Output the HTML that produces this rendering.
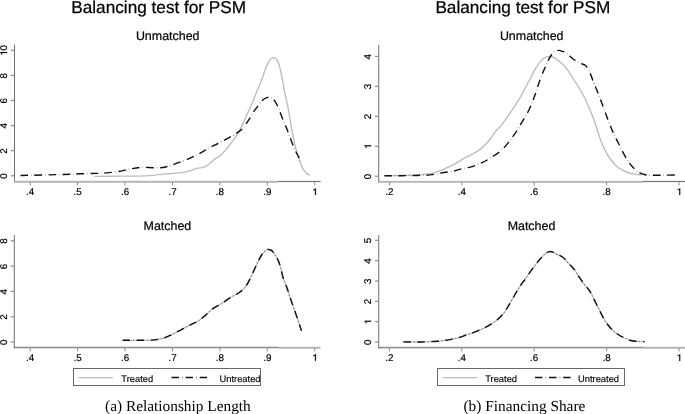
<!DOCTYPE html>
<html><head><meta charset="utf-8"><style>
html,body{margin:0;padding:0;background:#fff;}
body{width:685px;height:414px;overflow:hidden;}
svg{display:block;will-change:transform;text-rendering:geometricPrecision;}
.title{font-family:"Liberation Sans",sans-serif;font-size:17.2px;fill:#000;stroke:#000;stroke-width:0.25px;}
.sub{font-family:"Liberation Sans",sans-serif;font-size:12.45px;fill:#000;stroke:#000;stroke-width:0.2px;}
.t{font-family:"Liberation Sans",sans-serif;font-size:9.8px;fill:#000;stroke:#000;stroke-width:0.2px;}
.leg{font-family:"Liberation Sans",sans-serif;font-size:9.35px;fill:#000;stroke:#000;stroke-width:0.15px;}
.g1{fill:#000;stroke:#000;stroke-width:0.2px;}
.cap{font-family:"Liberation Serif",serif;font-size:15.35px;fill:#000;}
</style></head><body>
<svg width="685" height="414" viewBox="0 0 685 414">
<text x="158.7" y="12.7" text-anchor="middle" class="title">Balancing test for PSM</text>
<text x="522.8" y="12.7" text-anchor="middle" class="title">Balancing test for PSM</text>
<text x="167.7" y="40.2" text-anchor="middle" class="sub">Unmatched</text>
<text x="531.7" y="40.2" text-anchor="middle" class="sub">Unmatched</text>
<text x="167.4" y="230.3" text-anchor="middle" class="sub">Matched</text>
<text x="531.5" y="230.3" text-anchor="middle" class="sub">Matched</text>
<rect x="14.0" y="44.6" width="1" height="138.1" fill="#707070"/>
<rect x="14" y="180.8" width="263.9" height="2" fill="#b6b6b6"/>
<rect x="277.9" y="180.9" width="42.700000000000045" height="1.2" fill="#767676"/>
<rect x="29.7" y="182.2" width="1" height="3.3" fill="#8a8a8a"/>
<text x="30.2" y="195.0" text-anchor="middle" class="t">.4</text>
<rect x="77.1" y="182.2" width="1" height="3.3" fill="#8a8a8a"/>
<text x="77.6" y="195.0" text-anchor="middle" class="t">.5</text>
<rect x="124.5" y="182.2" width="1" height="3.3" fill="#8a8a8a"/>
<text x="125.0" y="195.0" text-anchor="middle" class="t">.6</text>
<rect x="172.0" y="182.2" width="1" height="3.3" fill="#8a8a8a"/>
<text x="172.5" y="195.0" text-anchor="middle" class="t">.7</text>
<rect x="219.4" y="182.2" width="1" height="3.3" fill="#8a8a8a"/>
<text x="219.9" y="195.0" text-anchor="middle" class="t">.8</text>
<rect x="266.8" y="182.2" width="1" height="3.3" fill="#8a8a8a"/>
<text x="267.3" y="195.0" text-anchor="middle" class="t">.9</text>
<rect x="314.2" y="182.2" width="1" height="3.3" fill="#8a8a8a"/>
<path d="M315.91 195.00 L315.91 188.26 L315.19 188.26 L315.08 188.73 L314.72 189.30 L313.96 189.54 L313.20 189.59 L313.20 190.20 L314.96 190.20 L314.96 195.00 Z" class="g1"/>
<rect x="10.9" y="175.20000000000002" width="3.4" height="1.2" fill="#8c8c8c"/>
<text transform="translate(6.9 176.10) rotate(-90)" text-anchor="middle" class="t">0</text>
<rect x="10.9" y="150.10000000000002" width="3.4" height="1.2" fill="#8c8c8c"/>
<text transform="translate(6.9 151.00) rotate(-90)" text-anchor="middle" class="t">2</text>
<rect x="10.9" y="125.00000000000001" width="3.4" height="1.2" fill="#8c8c8c"/>
<text transform="translate(6.9 125.90) rotate(-90)" text-anchor="middle" class="t">4</text>
<rect x="10.9" y="99.9" width="3.4" height="1.2" fill="#8c8c8c"/>
<text transform="translate(6.9 100.80) rotate(-90)" text-anchor="middle" class="t">6</text>
<rect x="10.9" y="74.80000000000001" width="3.4" height="1.2" fill="#8c8c8c"/>
<text transform="translate(6.9 75.70) rotate(-90)" text-anchor="middle" class="t">8</text>
<rect x="10.9" y="49.70000000000001" width="3.4" height="1.2" fill="#8c8c8c"/>
<g transform="translate(6.9 50.60) rotate(-90)"><path d="M-1.52 0.00 L-1.52 -6.74 L-2.23 -6.74 L-2.34 -6.27 L-2.71 -5.70 L-3.47 -5.46 L-4.23 -5.41 L-4.23 -4.80 L-2.47 -4.80 L-2.47 0.00 Z" class="g1"/><text x="0" y="0" class="t">0</text></g>
<rect x="378.2" y="44.8" width="1" height="137.8" fill="#707070"/>
<rect x="378.2" y="180.9" width="263.8" height="1.9" fill="#b6b6b6"/>
<rect x="642" y="180.9" width="43" height="1.2" fill="#767676"/>
<rect x="388.9" y="182.1" width="1" height="3.3" fill="#8a8a8a"/>
<text x="389.4" y="194.9" text-anchor="middle" class="t">.2</text>
<rect x="461.3" y="182.1" width="1" height="3.3" fill="#8a8a8a"/>
<text x="461.8" y="194.9" text-anchor="middle" class="t">.4</text>
<rect x="533.7" y="182.1" width="1" height="3.3" fill="#8a8a8a"/>
<text x="534.2" y="194.9" text-anchor="middle" class="t">.6</text>
<rect x="606.1" y="182.1" width="1" height="3.3" fill="#8a8a8a"/>
<text x="606.6" y="194.9" text-anchor="middle" class="t">.8</text>
<rect x="678.5" y="182.1" width="1" height="3.3" fill="#8a8a8a"/>
<path d="M680.21 194.90 L680.21 188.16 L679.49 188.16 L679.38 188.63 L679.02 189.20 L678.26 189.44 L677.50 189.49 L677.50 190.10 L679.26 190.10 L679.26 194.90 Z" class="g1"/>
<rect x="375.09999999999997" y="175.6" width="3.4" height="1.2" fill="#8c8c8c"/>
<text transform="translate(371.09999999999997 176.50) rotate(-90)" text-anchor="middle" class="t">0</text>
<rect x="375.09999999999997" y="145.65" width="3.4" height="1.2" fill="#8c8c8c"/>
<path transform="translate(371.09999999999997 146.55) rotate(-90)" d="M1.18 0.00 L1.18 -6.59 L0.48 -6.59 L0.37 -6.14 L0.02 -5.58 L-0.73 -5.35 L-1.47 -5.30 L-1.47 -4.70 L0.25 -4.70 L0.25 0.00 Z" class="g1"/>
<rect x="375.09999999999997" y="115.69999999999999" width="3.4" height="1.2" fill="#8c8c8c"/>
<text transform="translate(371.09999999999997 116.60) rotate(-90)" text-anchor="middle" class="t">2</text>
<rect x="375.09999999999997" y="85.75" width="3.4" height="1.2" fill="#8c8c8c"/>
<text transform="translate(371.09999999999997 86.65) rotate(-90)" text-anchor="middle" class="t">3</text>
<rect x="375.09999999999997" y="55.79999999999999" width="3.4" height="1.2" fill="#8c8c8c"/>
<text transform="translate(371.09999999999997 56.70) rotate(-90)" text-anchor="middle" class="t">4</text>
<rect x="13.8" y="235" width="1" height="113.5" fill="#707070"/>
<rect x="13.8" y="346.7" width="265.09999999999997" height="1.6" fill="#8e8e8e"/>
<rect x="278.9" y="346.8" width="41.700000000000045" height="1.9" fill="#b2b2b2"/>
<rect x="29.7" y="348.0" width="1" height="3.3" fill="#8a8a8a"/>
<text x="30.2" y="360.8" text-anchor="middle" class="t">.4</text>
<rect x="77.1" y="348.0" width="1" height="3.3" fill="#8a8a8a"/>
<text x="77.6" y="360.8" text-anchor="middle" class="t">.5</text>
<rect x="124.5" y="348.0" width="1" height="3.3" fill="#8a8a8a"/>
<text x="125.0" y="360.8" text-anchor="middle" class="t">.6</text>
<rect x="172.0" y="348.0" width="1" height="3.3" fill="#8a8a8a"/>
<text x="172.5" y="360.8" text-anchor="middle" class="t">.7</text>
<rect x="219.4" y="348.0" width="1" height="3.3" fill="#8a8a8a"/>
<text x="219.9" y="360.8" text-anchor="middle" class="t">.8</text>
<rect x="266.8" y="348.0" width="1" height="3.3" fill="#8a8a8a"/>
<text x="267.3" y="360.8" text-anchor="middle" class="t">.9</text>
<rect x="314.2" y="348.0" width="1" height="3.3" fill="#8a8a8a"/>
<path d="M315.91 360.80 L315.91 354.06 L315.19 354.06 L315.08 354.53 L314.72 355.10 L313.96 355.34 L313.20 355.38 L313.20 356.00 L314.96 356.00 L314.96 360.80 Z" class="g1"/>
<rect x="10.700000000000001" y="341.5" width="3.4" height="1.2" fill="#8c8c8c"/>
<text transform="translate(6.700000000000001 342.40) rotate(-90)" text-anchor="middle" class="t">0</text>
<rect x="10.700000000000001" y="316.17" width="3.4" height="1.2" fill="#8c8c8c"/>
<text transform="translate(6.700000000000001 317.07) rotate(-90)" text-anchor="middle" class="t">2</text>
<rect x="10.700000000000001" y="290.84000000000003" width="3.4" height="1.2" fill="#8c8c8c"/>
<text transform="translate(6.700000000000001 291.74) rotate(-90)" text-anchor="middle" class="t">4</text>
<rect x="10.700000000000001" y="265.51" width="3.4" height="1.2" fill="#8c8c8c"/>
<text transform="translate(6.700000000000001 266.41) rotate(-90)" text-anchor="middle" class="t">6</text>
<rect x="10.700000000000001" y="240.18000000000004" width="3.4" height="1.2" fill="#8c8c8c"/>
<text transform="translate(6.700000000000001 241.08) rotate(-90)" text-anchor="middle" class="t">8</text>
<rect x="378.2" y="235.1" width="1" height="113.50000000000003" fill="#707070"/>
<rect x="378.2" y="346.8" width="264.7" height="1.6" fill="#8e8e8e"/>
<rect x="642.9" y="346.8" width="42.10000000000002" height="1.9" fill="#b2b2b2"/>
<rect x="388.9" y="348.1" width="1" height="3.3" fill="#8a8a8a"/>
<text x="389.4" y="360.90000000000003" text-anchor="middle" class="t">.2</text>
<rect x="461.3" y="348.1" width="1" height="3.3" fill="#8a8a8a"/>
<text x="461.8" y="360.90000000000003" text-anchor="middle" class="t">.4</text>
<rect x="533.7" y="348.1" width="1" height="3.3" fill="#8a8a8a"/>
<text x="534.2" y="360.90000000000003" text-anchor="middle" class="t">.6</text>
<rect x="606.1" y="348.1" width="1" height="3.3" fill="#8a8a8a"/>
<text x="606.6" y="360.90000000000003" text-anchor="middle" class="t">.8</text>
<rect x="678.5" y="348.1" width="1" height="3.3" fill="#8a8a8a"/>
<path d="M680.21 360.90 L680.21 354.16 L679.49 354.16 L679.38 354.63 L679.02 355.20 L678.26 355.44 L677.50 355.49 L677.50 356.10 L679.26 356.10 L679.26 360.90 Z" class="g1"/>
<rect x="375.09999999999997" y="341.4" width="3.4" height="1.2" fill="#8c8c8c"/>
<text transform="translate(371.09999999999997 342.30) rotate(-90)" text-anchor="middle" class="t">0</text>
<rect x="375.09999999999997" y="321.07" width="3.4" height="1.2" fill="#8c8c8c"/>
<path transform="translate(371.09999999999997 321.97) rotate(-90)" d="M1.18 0.00 L1.18 -6.59 L0.48 -6.59 L0.37 -6.14 L0.02 -5.58 L-0.73 -5.35 L-1.47 -5.30 L-1.47 -4.70 L0.25 -4.70 L0.25 0.00 Z" class="g1"/>
<rect x="375.09999999999997" y="300.74" width="3.4" height="1.2" fill="#8c8c8c"/>
<text transform="translate(371.09999999999997 301.64) rotate(-90)" text-anchor="middle" class="t">2</text>
<rect x="375.09999999999997" y="280.40999999999997" width="3.4" height="1.2" fill="#8c8c8c"/>
<text transform="translate(371.09999999999997 281.31) rotate(-90)" text-anchor="middle" class="t">3</text>
<rect x="375.09999999999997" y="260.08" width="3.4" height="1.2" fill="#8c8c8c"/>
<text transform="translate(371.09999999999997 260.98) rotate(-90)" text-anchor="middle" class="t">4</text>
<rect x="375.09999999999997" y="239.75000000000003" width="3.4" height="1.2" fill="#8c8c8c"/>
<text transform="translate(371.09999999999997 240.65) rotate(-90)" text-anchor="middle" class="t">5</text>
<path d="M94.4 176.3 C97.8 176.3 106.6 176.3 115.0 176.2 C123.4 176.1 137.5 176.2 144.8 175.9 C152.1 175.7 154.1 175.1 158.8 174.7 C163.5 174.3 168.5 173.7 172.9 173.3 C177.3 172.9 182.2 172.5 185.1 172.1 C188.0 171.7 188.3 171.3 190.4 170.7 C192.5 170.0 195.5 168.8 197.7 168.2 C199.9 167.6 201.6 168.1 203.5 167.4 C205.4 166.7 207.4 165.2 209.3 163.8 C211.2 162.4 213.2 160.4 215.1 158.9 C217.0 157.4 218.7 157.2 220.9 155.1 C223.2 153.0 226.0 149.6 228.6 146.4 C231.2 143.2 234.1 139.2 236.4 135.7 C238.7 132.1 240.4 128.6 242.2 125.1 C244.0 121.6 245.4 118.0 247.0 114.5 C248.6 111.0 250.2 107.9 251.8 104.1 C253.4 100.2 255.1 95.5 256.8 91.4 C258.5 87.3 260.3 83.7 261.9 79.6 C263.4 75.5 264.7 70.3 266.1 66.9 C267.5 63.5 269.2 60.8 270.4 59.3 C271.6 57.8 272.3 57.5 273.4 57.6 C274.5 57.7 276.1 58.5 277.1 60.1 C278.2 61.7 278.9 63.8 279.7 66.9 C280.5 70.0 281.4 74.5 282.2 78.7 C283.0 82.9 283.7 87.2 284.7 92.3 C285.7 97.4 287.3 103.8 288.4 109.6 C289.5 115.4 290.4 121.8 291.3 126.9 C292.2 132.0 292.9 135.6 293.8 140.0 C294.8 144.4 296.0 149.6 297.0 153.3 C298.0 157.0 298.9 159.5 300.0 162.3 C301.1 165.1 302.6 168.3 303.8 170.2 C305.0 172.1 306.0 172.8 307.0 173.6 C308.0 174.4 309.4 174.8 309.9 175.0" stroke="#bcbcbc" stroke-width="1.35" fill="none"/>
<path d="M20.5 175.5 C27.5 175.3 52.7 174.8 62.6 174.5 C72.5 174.2 74.3 174.0 80.0 173.8 C85.7 173.6 92.3 173.6 96.7 173.4 C101.1 173.2 102.7 173.2 106.3 172.9 C109.9 172.6 114.4 172.2 118.5 171.5 C122.6 170.8 126.9 169.5 130.8 168.8 C134.7 168.1 137.9 167.5 142.0 167.3 C146.1 167.1 151.4 167.9 155.3 167.8 C159.2 167.8 162.1 167.7 165.5 167.0 C168.9 166.3 171.8 165.1 175.7 163.7 C179.6 162.3 184.8 160.4 188.8 158.7 C192.9 157.0 196.6 155.1 200.0 153.3 C203.4 151.5 206.1 149.5 209.3 147.8 C212.5 146.1 215.8 144.6 219.0 142.9 C222.2 141.2 225.7 139.5 228.6 137.9 C231.5 136.3 234.1 134.8 236.3 133.4 C238.5 132.0 240.0 131.2 241.6 129.6 C243.2 128.0 244.6 125.7 245.9 124.0 C247.2 122.3 248.1 121.1 249.3 119.2 C250.5 117.3 251.9 114.4 253.2 112.4 C254.5 110.4 255.7 109.0 257.1 107.1 C258.6 105.2 260.3 102.4 261.9 100.8 C263.5 99.2 265.4 98.3 266.8 97.7 C268.2 97.1 269.4 96.7 270.5 97.0 C271.6 97.3 272.6 98.2 273.6 99.4 C274.6 100.6 275.6 102.2 276.5 103.9 C277.4 105.6 278.1 107.4 278.9 109.3 C279.7 111.2 280.6 113.6 281.3 115.5 C282.0 117.4 282.7 119.0 283.3 120.5 C283.9 122.0 284.6 123.2 285.2 124.7 C285.8 126.2 285.7 125.8 287.1 129.5 C288.5 133.2 291.8 142.6 293.8 147.2 C295.8 151.8 297.4 154.6 298.9 157.3 C300.4 160.0 302.0 162.6 302.6 163.6" stroke="#111" stroke-width="1.4" fill="none" stroke-dasharray="7.6 3.1 0.3 3.0"/>
<path d="M384.5 175.8 C387.6 175.7 397.5 175.5 403.4 175.3 C409.3 175.1 415.6 174.8 420.0 174.5 C424.4 174.2 426.3 174.5 430.0 173.7 C433.7 172.9 438.1 171.4 442.1 169.8 C446.1 168.2 450.5 166.3 454.1 164.4 C457.7 162.5 460.8 160.1 463.8 158.4 C466.8 156.7 469.6 155.5 472.2 154.1 C474.8 152.7 477.3 151.5 479.5 149.9 C481.7 148.3 483.5 146.6 485.5 144.5 C487.5 142.4 490.0 139.2 491.6 137.2 C493.2 135.1 493.3 134.3 495.0 132.2 C496.7 130.1 499.0 128.2 501.8 124.6 C504.6 120.9 509.1 114.4 511.9 110.3 C514.7 106.2 516.8 103.1 518.6 100.1 C520.5 97.1 521.1 95.8 523.0 92.3 C524.9 88.8 527.9 83.3 530.0 79.3 C532.1 75.3 533.9 71.3 535.8 68.1 C537.7 64.9 539.9 61.9 541.6 60.1 C543.3 58.3 544.5 57.8 545.9 57.2 C547.3 56.6 548.8 56.4 550.3 56.5 C551.8 56.6 552.9 56.9 554.6 57.9 C556.3 58.9 558.5 60.6 560.4 62.3 C562.3 64.0 564.3 65.7 566.2 68.1 C568.1 70.5 570.3 74.2 572.0 76.8 C573.7 79.3 574.9 81.3 576.2 83.4 C577.6 85.5 578.6 86.9 580.1 89.5 C581.6 92.1 583.5 95.5 585.2 99.0 C586.9 102.5 588.6 106.3 590.2 110.3 C591.9 114.3 593.5 118.5 595.1 123.2 C596.8 127.9 598.4 134.1 600.1 138.7 C601.8 143.3 603.5 147.2 605.2 150.6 C606.9 154.0 608.3 156.3 610.3 159.0 C612.3 161.7 614.8 164.6 617.0 166.6 C619.2 168.6 621.2 169.6 623.8 170.8 C626.3 172.0 629.3 173.2 632.3 173.9 C635.3 174.6 640.2 174.7 641.8 174.9" stroke="#bcbcbc" stroke-width="1.35" fill="none"/>
<path d="M384.4 175.8 C389.8 175.8 408.9 175.7 416.5 175.5 C424.1 175.3 425.7 175.3 430.0 174.9 C434.3 174.5 438.1 173.5 442.1 172.8 C446.1 172.2 450.7 171.7 454.1 171.0 C457.5 170.3 459.6 169.3 462.6 168.6 C465.6 167.9 469.2 167.5 472.2 166.6 C475.2 165.7 478.1 164.4 480.7 163.2 C483.3 162.0 485.5 161.0 487.9 159.6 C490.3 158.2 492.7 156.6 495.0 155.0 C497.3 153.4 499.6 152.1 501.8 150.0 C504.1 147.9 506.2 145.2 508.5 142.4 C510.8 139.6 513.0 136.5 515.3 133.1 C517.5 129.7 519.8 125.9 522.0 122.1 C524.2 118.3 526.9 114.1 528.8 110.3 C530.7 106.5 532.2 102.3 533.5 99.0 C534.8 95.7 535.5 93.5 536.6 90.3 C537.7 87.0 538.8 83.1 540.1 79.5 C541.4 75.9 543.0 72.1 544.5 68.8 C546.0 65.5 547.3 62.0 548.8 59.4 C550.2 56.8 551.6 54.4 553.2 52.9 C554.8 51.4 556.7 50.6 558.3 50.4 C559.9 50.1 561.0 50.8 562.6 51.4 C564.2 52.0 566.2 53.3 567.7 54.3 C569.2 55.3 570.3 56.6 571.5 57.6 C572.7 58.6 573.5 59.4 575.1 60.4 C576.7 61.4 579.3 62.7 581.0 63.5 C582.7 64.3 584.1 64.5 585.2 65.3 C586.3 66.1 586.9 67.2 587.7 68.6 C588.6 70.0 589.3 71.3 590.3 73.6 C591.3 75.8 592.5 79.3 593.6 82.1 C594.7 84.9 595.9 87.7 597.0 90.5 C598.1 93.3 599.2 95.8 600.4 99.0 C601.6 102.2 602.8 105.8 604.2 109.5 C605.6 113.2 607.0 117.5 608.6 121.5 C610.2 125.5 612.0 130.0 613.7 133.7 C615.4 137.4 617.0 140.4 618.7 143.8 C620.4 147.2 622.1 150.8 623.8 153.9 C625.5 157.0 627.2 160.0 628.9 162.4 C630.6 164.8 632.2 166.6 633.9 168.3 C635.6 170.0 637.3 171.5 639.0 172.5 C640.7 173.5 642.3 174.1 644.1 174.5 C645.9 174.9 647.0 175.1 650.0 175.2 C653.0 175.3 657.7 175.2 662.0 175.2 C666.3 175.2 673.7 175.0 676.0 175.0" stroke="#111" stroke-width="1.4" fill="none" stroke-dasharray="7.6 3.1 0.3 3.0"/>
<path d="M122.6 340.3 C127.2 340.3 143.9 340.4 150.3 340.1 C156.7 339.9 157.6 339.6 160.8 338.8 C164.0 338.1 166.4 337.0 169.6 335.6 C172.8 334.2 176.7 332.1 180.1 330.3 C183.5 328.6 186.9 326.7 190.0 325.1 C193.1 323.5 196.0 322.4 198.7 320.7 C201.3 319.0 203.5 316.9 205.9 314.9 C208.3 312.8 210.5 310.3 213.2 308.4 C215.9 306.5 219.0 305.1 221.9 303.3 C224.8 301.5 227.7 299.3 230.6 297.5 C233.5 295.7 236.9 294.2 239.3 292.5 C241.7 290.8 243.4 289.3 245.1 287.2 C246.8 285.1 247.9 283.0 249.4 280.1 C250.9 277.2 252.7 273.2 254.2 269.9 C255.7 266.6 257.3 263.1 258.6 260.5 C259.9 257.9 260.6 256.3 262.0 254.5 C263.4 252.7 265.5 250.5 266.8 249.7 C268.1 248.9 269.0 249.6 270.0 249.9 C271.0 250.2 271.4 250.1 272.6 251.5 C273.8 252.9 275.9 255.9 277.2 258.4 C278.5 260.9 279.4 263.3 280.4 266.5 C281.4 269.7 282.0 274.2 283.0 277.5 C284.0 280.8 285.2 283.1 286.4 286.3 C287.6 289.6 288.9 293.6 290.0 297.0 C291.1 300.4 292.1 303.3 293.3 306.7 C294.5 310.1 295.6 313.3 297.0 317.3 C298.4 321.3 300.8 328.6 301.5 330.9" stroke="#bcbcbc" stroke-width="1.35" fill="none"/>
<path d="M122.6 340.3 C127.2 340.3 143.9 340.4 150.3 340.1 C156.7 339.9 157.6 339.6 160.8 338.8 C164.0 338.1 166.4 337.0 169.6 335.6 C172.8 334.2 176.7 332.1 180.1 330.3 C183.5 328.6 186.9 326.7 190.0 325.1 C193.1 323.5 196.0 322.4 198.7 320.7 C201.3 319.0 203.5 316.9 205.9 314.9 C208.3 312.8 210.5 310.3 213.2 308.4 C215.9 306.5 219.0 305.1 221.9 303.3 C224.8 301.5 227.7 299.3 230.6 297.5 C233.5 295.7 236.9 294.2 239.3 292.5 C241.7 290.8 243.4 289.3 245.1 287.2 C246.8 285.1 247.9 283.0 249.4 280.1 C250.9 277.2 252.7 273.2 254.2 269.9 C255.7 266.6 257.3 263.1 258.6 260.5 C259.9 257.9 260.6 256.3 262.0 254.5 C263.4 252.7 265.5 250.5 266.8 249.7 C268.1 248.9 269.0 249.6 270.0 249.9 C271.0 250.2 271.4 250.1 272.6 251.5 C273.8 252.9 275.9 255.9 277.2 258.4 C278.5 260.9 279.4 263.3 280.4 266.5 C281.4 269.7 282.0 274.2 283.0 277.5 C284.0 280.8 285.2 283.1 286.4 286.3 C287.6 289.6 288.9 293.6 290.0 297.0 C291.1 300.4 292.1 303.3 293.3 306.7 C294.5 310.1 295.6 313.3 297.0 317.3 C298.4 321.3 300.8 328.6 301.5 330.9" stroke="#111" stroke-width="1.4" fill="none" stroke-dasharray="7.6 3.1 0.3 3.0"/>
<path d="M403.3 341.9 C406.1 341.9 414.4 342.1 420.1 342.0 C425.8 341.9 433.5 341.5 437.6 341.2 C441.8 340.9 442.6 340.6 445.0 340.3 C447.4 340.0 449.8 339.6 452.2 339.1 C454.6 338.6 457.1 338.0 459.5 337.3 C461.9 336.6 464.3 335.6 466.7 334.8 C469.1 334.0 471.6 333.3 474.0 332.4 C476.4 331.5 479.0 330.4 481.2 329.4 C483.4 328.4 485.3 327.5 487.3 326.4 C489.3 325.3 491.3 324.2 493.3 322.8 C495.3 321.4 497.5 319.6 499.3 317.9 C501.1 316.2 502.7 314.5 504.2 312.5 C505.7 310.5 506.6 308.9 508.5 305.8 C510.4 302.7 513.3 297.4 515.3 294.0 C517.3 290.6 518.7 288.1 520.4 285.6 C522.1 283.1 523.6 281.3 525.4 278.8 C527.2 276.3 529.5 272.9 531.3 270.4 C533.1 267.9 534.8 265.6 536.4 263.6 C538.0 261.6 539.0 260.2 540.6 258.5 C542.2 256.8 544.2 254.7 545.7 253.5 C547.2 252.3 548.2 251.8 549.5 251.6 C550.8 251.4 552.1 251.9 553.3 252.4 C554.5 252.9 555.1 253.4 556.8 254.3 C558.5 255.2 561.5 256.1 563.5 257.7 C565.5 259.2 566.9 261.8 568.6 263.6 C570.3 265.4 572.0 266.6 573.7 268.7 C575.4 270.8 577.0 273.8 578.7 276.3 C580.4 278.8 582.1 281.6 583.8 283.9 C585.5 286.1 587.5 287.8 588.9 289.8 C590.3 291.8 591.2 293.6 592.3 295.7 C593.4 297.8 594.4 300.1 595.6 302.5 C596.8 304.9 597.9 307.1 599.3 309.8 C600.6 312.5 602.2 316.0 603.7 318.5 C605.2 321.0 606.5 323.1 608.0 325.0 C609.5 326.9 610.8 328.4 612.4 329.9 C614.0 331.4 616.0 332.9 617.8 334.2 C619.6 335.5 621.3 336.5 623.3 337.5 C625.3 338.5 627.6 339.6 629.8 340.2 C632.0 340.8 633.8 341.1 636.3 341.3 C638.8 341.5 643.1 341.6 644.5 341.6" stroke="#bcbcbc" stroke-width="1.35" fill="none"/>
<path d="M403.3 341.9 C406.1 341.9 414.4 342.1 420.1 342.0 C425.8 341.9 433.5 341.5 437.6 341.2 C441.8 340.9 442.6 340.6 445.0 340.3 C447.4 340.0 449.8 339.6 452.2 339.1 C454.6 338.6 457.1 338.0 459.5 337.3 C461.9 336.6 464.3 335.6 466.7 334.8 C469.1 334.0 471.6 333.3 474.0 332.4 C476.4 331.5 479.0 330.4 481.2 329.4 C483.4 328.4 485.3 327.5 487.3 326.4 C489.3 325.3 491.3 324.2 493.3 322.8 C495.3 321.4 497.5 319.6 499.3 317.9 C501.1 316.2 502.7 314.5 504.2 312.5 C505.7 310.5 506.6 308.9 508.5 305.8 C510.4 302.7 513.3 297.4 515.3 294.0 C517.3 290.6 518.7 288.1 520.4 285.6 C522.1 283.1 523.6 281.3 525.4 278.8 C527.2 276.3 529.5 272.9 531.3 270.4 C533.1 267.9 534.8 265.6 536.4 263.6 C538.0 261.6 539.0 260.2 540.6 258.5 C542.2 256.8 544.2 254.7 545.7 253.5 C547.2 252.3 548.2 251.8 549.5 251.6 C550.8 251.4 552.1 251.9 553.3 252.4 C554.5 252.9 555.1 253.4 556.8 254.3 C558.5 255.2 561.5 256.1 563.5 257.7 C565.5 259.2 566.9 261.8 568.6 263.6 C570.3 265.4 572.0 266.6 573.7 268.7 C575.4 270.8 577.0 273.8 578.7 276.3 C580.4 278.8 582.1 281.6 583.8 283.9 C585.5 286.1 587.5 287.8 588.9 289.8 C590.3 291.8 591.2 293.6 592.3 295.7 C593.4 297.8 594.4 300.1 595.6 302.5 C596.8 304.9 597.9 307.1 599.3 309.8 C600.6 312.5 602.2 316.0 603.7 318.5 C605.2 321.0 606.5 323.1 608.0 325.0 C609.5 326.9 610.8 328.4 612.4 329.9 C614.0 331.4 616.0 332.9 617.8 334.2 C619.6 335.5 621.3 336.5 623.3 337.5 C625.3 338.5 627.6 339.6 629.8 340.2 C632.0 340.8 633.8 341.1 636.3 341.3 C638.8 341.5 643.1 341.6 644.5 341.6" stroke="#111" stroke-width="1.4" fill="none" stroke-dasharray="7.6 3.1 0.3 3.0"/>
<rect x="73.5" y="368.5" width="187.0" height="17" fill="none" stroke="#686868" stroke-width="1"/>
<line x1="78.4" y1="377.6" x2="113.1" y2="377.6" stroke="#bcbcbc" stroke-width="1.35" fill="none"/>
<text x="121.3" y="381.8" class="leg">Treated</text>
<line x1="171.5" y1="377.5" x2="207.0" y2="377.5" stroke="#111" stroke-width="1.3" stroke-dasharray="7.4 3.2 0.5 3"/>
<text x="219.5" y="381.8" class="leg">Untreated</text>
<rect x="437.5" y="368.5" width="187.0" height="17" fill="none" stroke="#686868" stroke-width="1"/>
<line x1="442.5" y1="377.6" x2="477.2" y2="377.6" stroke="#bcbcbc" stroke-width="1.35" fill="none"/>
<text x="485.2" y="381.8" class="leg">Treated</text>
<line x1="535.0" y1="377.5" x2="570.9" y2="377.5" stroke="#111" stroke-width="1.3" stroke-dasharray="7.4 3.2 0.5 3"/>
<text x="578.0" y="381.8" class="leg">Untreated</text>
<text x="177.9" y="411.1" text-anchor="middle" class="cap">(a) Relationship Length</text>
<text x="524.4" y="410.5" text-anchor="middle" class="cap">(b) Financing Share</text>
</svg>
</body></html>
